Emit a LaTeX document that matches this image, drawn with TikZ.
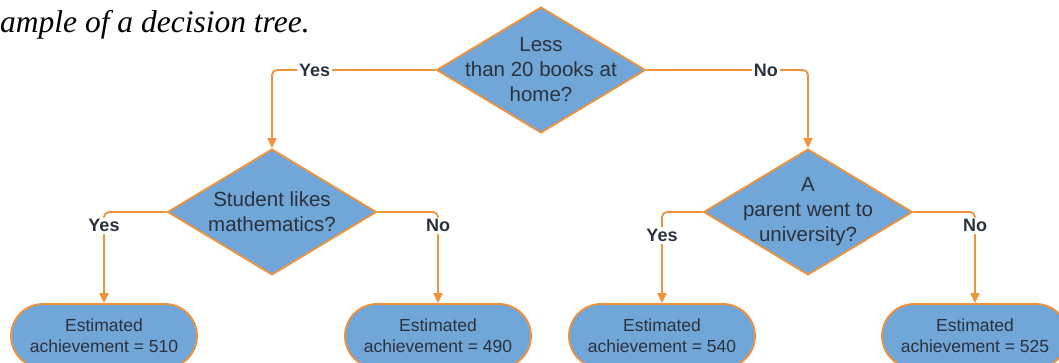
\documentclass[tikz,border=0pt]{standalone}
\usepackage{fontspec}
\setmainfont{Liberation Serif}
\setsansfont{Liberation Sans}
\usetikzlibrary{shapes.geometric,arrows.meta}
\definecolor{boxblue}{RGB}{112,166,216}
\definecolor{edgeorange}{RGB}{240,146,58}
\definecolor{inkgray}{RGB}{44,50,60}
\begin{document}
\begin{tikzpicture}[x=1pt,y=-1pt,
  decision/.style={diamond, draw=edgeorange, fill=boxblue, line width=1.8pt,
    minimum width=209pt, minimum height=126pt, inner sep=0pt},
  qtext/.style={font=\sffamily\fontsize{20.5}{25}\selectfont, text=inkgray,
    align=center, inner sep=0pt},
  leaf/.style={rectangle, rounded corners=32pt, draw=edgeorange, fill=boxblue,
    line width=1.8pt, minimum width=186pt, minimum height=64pt,
    font=\sffamily\fontsize{17.5}{21}\selectfont, text=inkgray, align=center,
    inner sep=0pt},
  branch/.style={draw=edgeorange, line width=1.8pt, rounded corners=5pt,
    -{Triangle[length=10pt,width=9pt]}},
  answer/.style={fill=white, font=\sffamily\bfseries\fontsize{18}{21}\selectfont,
    text=inkgray, inner sep=2pt}]
\useasboundingbox (0,0) rectangle (1059,363);
\clip (0,0) rectangle (1059,363);

% caption line
\node[anchor=base west, inner sep=0pt, font=\itshape\fontsize{31.5}{36}\selectfont]
  (cap) at (0,33) {ample of a decision tree.};

% decision diamonds
\node[decision] (q0) at (541,70) {};
\node[qtext] (q0t) at (q0) {Less\\than 20 books at\\home?};
\node[decision] (q1) at (272,212) {};
\node[qtext] (q1t) at (q1) {Student likes\\mathematics?};
\node[decision] (q2) at (808,212) {};
\node[qtext] (q2t) at (q2) {A\\parent went to\\university?};

% leaves
\node[leaf] (r1) at (104,336) {Estimated\\achievement = 510};
\node[leaf] (r2) at (438,336) {Estimated\\achievement = 490};
\node[leaf] (r3) at (662,336) {Estimated\\achievement = 540};
\node[leaf] (r4) at (975,336) {Estimated\\achievement = 525};

% branches
\draw[branch] (q0.west) -| node[answer, pos=0.37] {Yes} (q1.north);
\draw[branch] (q0.east) -| node[answer, pos=0.37] {No} (q2.north);
\draw[branch] (q1.west) -| node[answer, pos=0.576] {Yes} (r1.north);
\draw[branch] (q1.east) -| node[answer, pos=0.576] {No} (r2.north);
\draw[branch] (q2.west) -| node[answer, pos=0.63] {Yes} (r3.north);
\draw[branch] (q2.east) -| node[answer, pos=0.576] {No} (r4.north);
\end{tikzpicture}
\end{document}
